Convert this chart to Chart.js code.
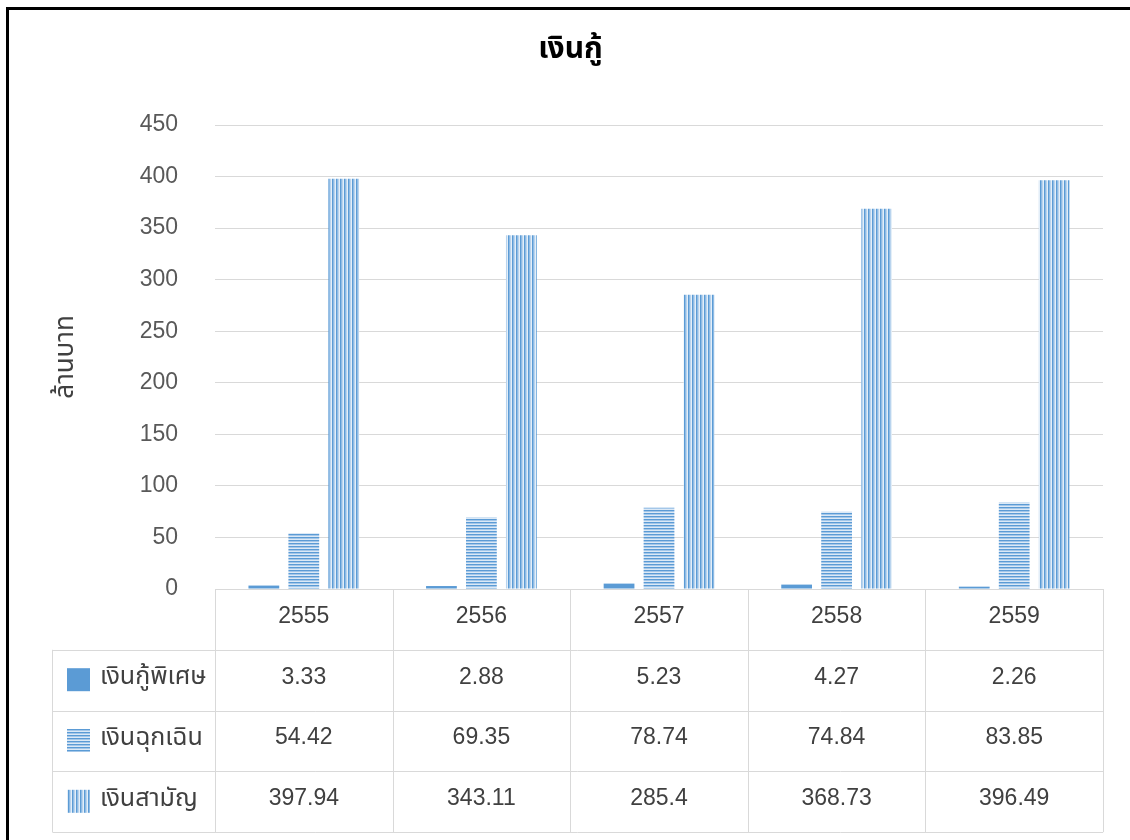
<!DOCTYPE html>
<html>
<head>
<meta charset="utf-8">
<script src="https://cdn.jsdelivr.net/npm/chart.js@4"></script>
<style>
  body { margin: 0; background: #fff; }
  #frame { position: absolute; left: 6px; top: 7px; width: 1130px; height: 840px;
           border-left: 3px solid #000; border-top: 3px solid #000; }
  #box { position: absolute; left: 0; top: 0; width: 1130px; height: 840px; }
</style>
</head>
<body>
<div id="frame"></div>
<div id="box"><canvas id="loanChart" width="1130" height="840"></canvas></div>
<script>
const years = ['2555', '2556', '2557', '2558', '2559'];
const seriesNames = ['เงินกู้พิเศษ', 'เงินฉุกเฉิน', 'เงินสามัญ'];
const specialLoan = [3.33, 2.88, 5.23, 4.27, 2.26];
const emergencyLoan = [54.42, 69.35, 78.74, 74.84, 83.85];
const ordinaryLoan = [397.94, 343.11, 285.4, 368.73, 396.49];
const yMax = 450;
const yStep = 50;

const FONT = '"Liberation Sans", "Noto Sans Thai", "Noto Sans", sans-serif';
const BLUE = '#5b9bd5';

// striped fills like the office chart patterns
function makePattern(kind) {
    const c = document.createElement('canvas');
    const p = c.getContext('2d');
    if (kind === 'h') {
        c.width = 4; c.height = 3;
        p.fillStyle = '#dce9f6'; p.fillRect(0, 0, 4, 3);
        p.fillStyle = BLUE; p.fillRect(0, 0, 4, 1);
        p.fillStyle = '#a4c7e9'; p.fillRect(0, 1, 4, 1);
    } else {
        c.width = 4; c.height = 4;
        p.fillStyle = '#e3eef8'; p.fillRect(0, 0, 4, 4);
        p.fillStyle = BLUE; p.fillRect(0, 0, 1, 4);
        p.fillStyle = '#8fbbe4'; p.fillRect(1, 0, 1, 4);
        p.fillStyle = '#b9d4ee'; p.fillRect(2, 0, 1, 4);
    }
    return p.createPattern(c, 'repeat');
}

const fills = [BLUE, makePattern('h'), makePattern('v')];
const seriesValues = [specialLoan, emergencyLoan, ordinaryLoan];

// data table under the plot, columns taken from the x scale
const dataTable = {
    id: 'dataTable',
    afterDraw(chart) {
        const ctx = chart.ctx;
        const xs = chart.scales.x;
        const area = chart.chartArea;
        const colW = (area.right - area.left) / years.length;
        const top = area.bottom;
        const rowH = 60.8;
        const legendLeft = 52.5;
        const bottom = top + rowH * 4;

        ctx.save();
        ctx.strokeStyle = '#d9d9d9';
        ctx.lineWidth = 1;
        ctx.beginPath();
        // header row
        ctx.moveTo(area.left, top + 0.5); ctx.lineTo(area.right, top + 0.5);
        for (let r = 1; r <= 4; r++) {
            const y = Math.round(top + rowH * r) + 0.5;
            ctx.moveTo(legendLeft, y); ctx.lineTo(area.right, y);
        }
        ctx.moveTo(legendLeft, top + rowH); ctx.lineTo(legendLeft, bottom);
        for (let i = 0; i <= years.length; i++) {
            const x = Math.round(xs.getPixelForValue(i) - colW / 2) + 0.5;
            ctx.moveTo(x, top); ctx.lineTo(x, bottom);
        }
        ctx.stroke();

        ctx.fillStyle = '#404040';
        ctx.font = '23px ' + FONT;
        ctx.textAlign = 'center';
        ctx.textBaseline = 'middle';
        years.forEach((yr, i) => {
            ctx.fillText(yr, xs.getPixelForValue(i), top + rowH / 2 - 3);
        });
        seriesValues.forEach((vals, s) => {
            const cy = top + rowH * (s + 1) + rowH / 2;
            ctx.font = '23px ' + FONT;
            vals.forEach((v, i) => {
                ctx.fillText(String(v), xs.getPixelForValue(i), cy - 3);
            });
            ctx.fillStyle = fills[s];
            ctx.fillRect(67, cy - 12, 23, 23);
            ctx.fillStyle = '#404040';
            ctx.textAlign = 'left';
            ctx.font = '25px ' + FONT;
            ctx.fillText(seriesNames[s], 100, cy - 3);
            ctx.textAlign = 'center';
        });
        ctx.restore();
    }
};

const ctx = document.getElementById('loanChart').getContext('2d');
const chart = new Chart(ctx, {
    type: 'bar',
    data: {
        labels: years,
        datasets: seriesNames.map((name, s) => ({
            label: name,
            data: seriesValues[s],
            backgroundColor: fills[s],
            borderWidth: 0,
            categoryPercentage: 0.675,
            barPercentage: 0.77
        }))
    },
    options: {
        responsive: false,
        animation: false,
        layout: { padding: { top: 8, left: 38, right: 27, bottom: 251 } },
        scales: {
            x: { display: false },
            y: {
                min: 0,
                max: yMax,
                border: { display: false },
                grid: { color: '#d9d9d9', drawTicks: false },
                ticks: {
                    stepSize: yStep,
                    padding: 37,
                    color: '#595959',
                    font: { family: FONT, size: 23 }
                },
                title: {
                    display: true,
                    text: 'ล้านบาท',
                    color: '#404040',
                    padding: { top: 12, bottom: 0 },
                    font: { family: FONT, size: 26 }
                },
                afterFit(scale) { scale.width = 177; }
            }
        },
        plugins: {
            legend: { display: false },
            tooltip: { enabled: false },
            title: {
                display: true,
                text: 'เงินกู้',
                color: '#000000',
                padding: { top: 24, bottom: 57 },
                font: { family: FONT, size: 30, weight: 'bold' }
            }
        }
    },
    plugins: [dataTable]
});
</script>
</body>
</html>
